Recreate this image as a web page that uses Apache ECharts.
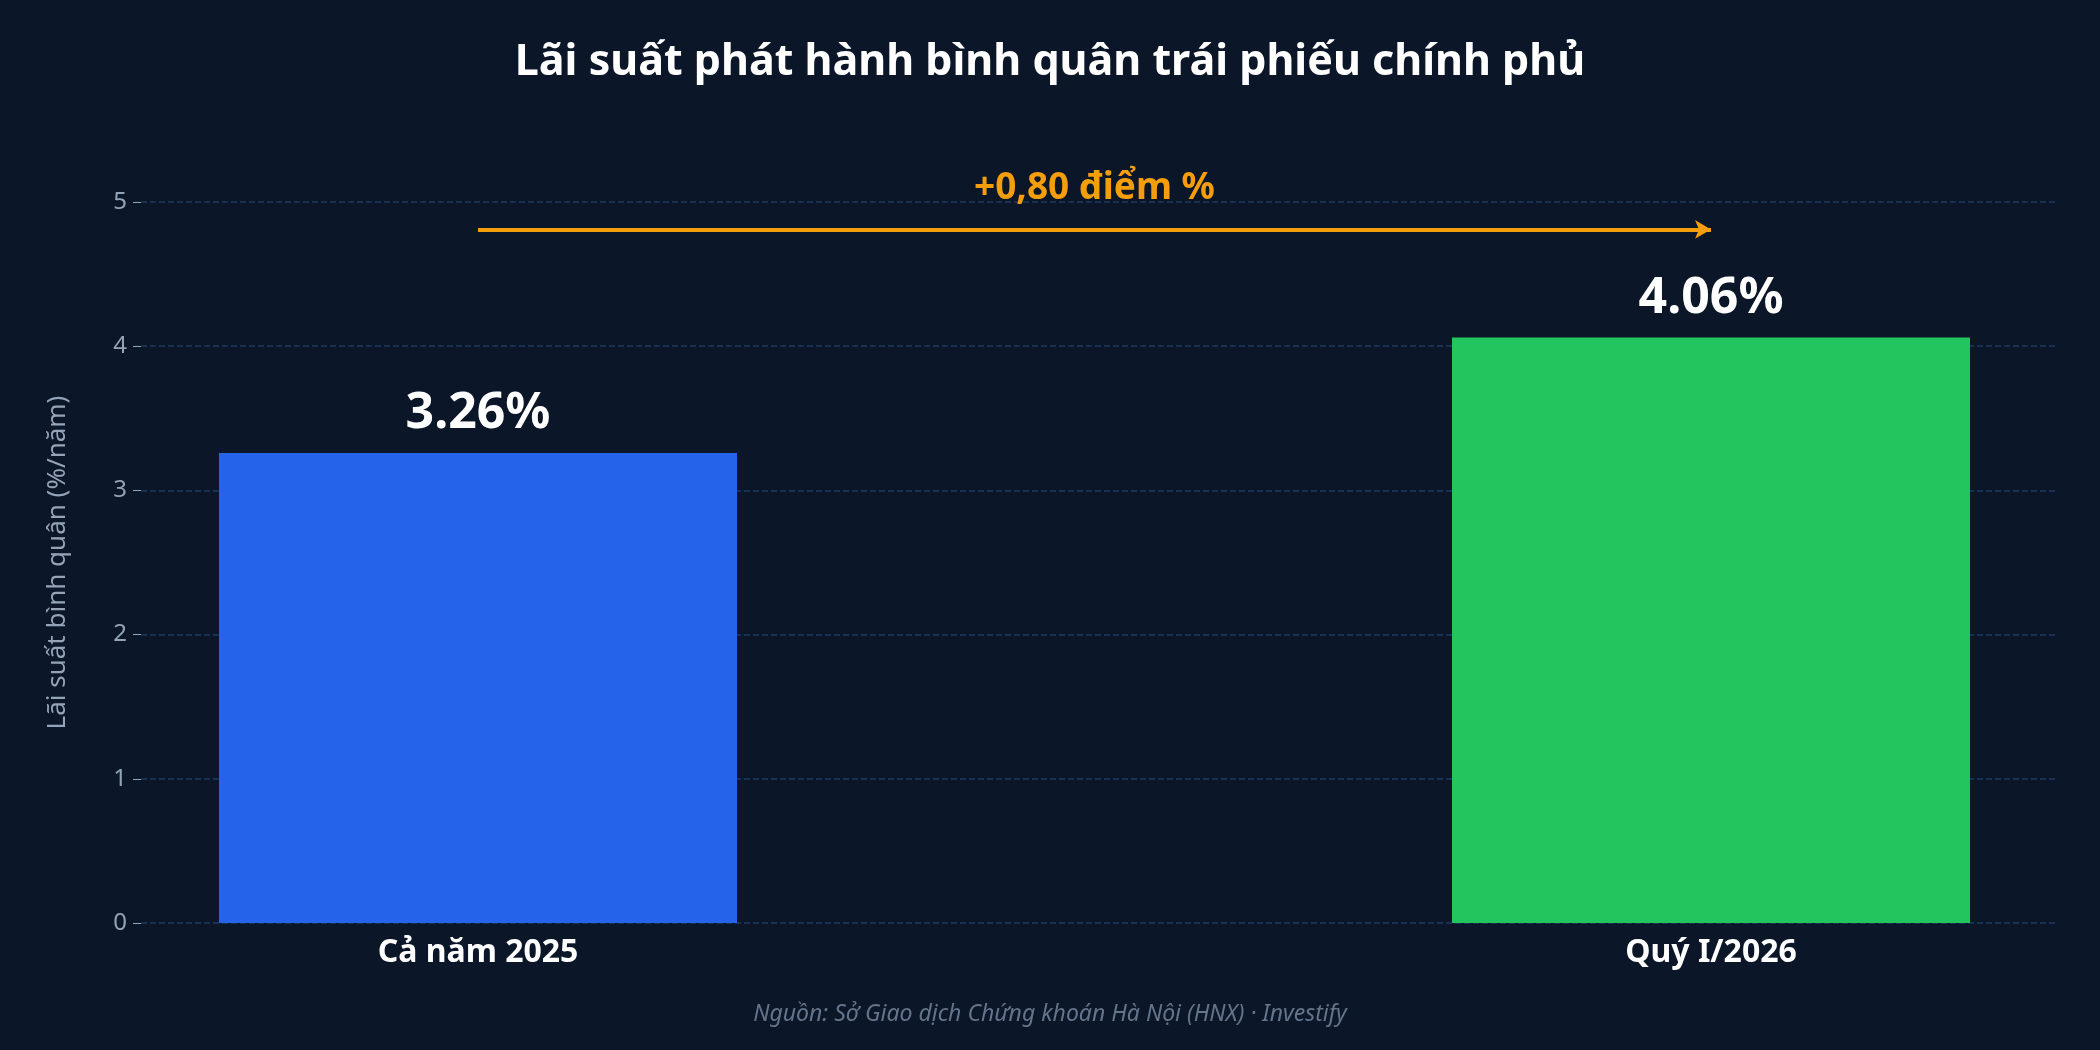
<!DOCTYPE html>
<html><head><meta charset="utf-8">
<script src="https://cdn.jsdelivr.net/npm/echarts@6/dist/echarts.min.js"></script>
<style>html,body{margin:0;padding:0;background:#0b1628}#c{width:2100px;height:1050px}</style>
</head><body><div id="c"></div>
<script>
const categories = ["Cả năm 2025", "Quý I/2026"];
const values = [3.26, 4.06];
const colors = ["#2563eb", "#22c55e"];
const arrowLevel = 4.81;
const arrowLabel = "+0,80 điểm %";
const yTicks = [0, 1, 2, 3, 4, 5];

const chart = echarts.init(document.getElementById('c'));
const font = "'Noto Sans', 'DejaVu Sans', sans-serif";
chart.setOption({
  backgroundColor: '#0b1628',
  animation: false,
  title: [{
    text: 'Lãi suất phát hành bình quân trái phiếu chính phủ',
    left: 'center', top: 36,
    textStyle: {color: '#ffffff', fontSize: 43, fontWeight: 'bold', fontFamily: font}
  }, {
    text: 'Nguồn: Sở Giao dịch Chứng khoán Hà Nội (HNX) · Investify',
    left: 'center', top: 998,
    textStyle: {color: '#64748b', fontSize: 23, fontStyle: 'italic', fontWeight: 'normal', fontFamily: font}
  }],
  grid: [
    {left: 141, right: 45, top: 202, bottom: 127},
    {left: 478, right: 389, top: 202, bottom: 127}
  ],
  xAxis: [
    {gridIndex: 0, type: 'value', show: false, min: 0, max: 1},
    {gridIndex: 1, type: 'category', data: categories, boundaryGap: false,
     axisLine: {show: false}, axisTick: {show: false},
     axisLabel: {color: '#ffffff', fontSize: 32, fontWeight: 'bold', fontFamily: font, margin: 14}}
  ],
  yAxis: [
    {gridIndex: 0, type: 'value', min: yTicks[0], max: yTicks[yTicks.length-1], interval: 1,
     name: 'Lãi suất bình quân (%/năm)', nameLocation: 'middle', nameGap: 70,
     nameTextStyle: {color: '#94a3b8', fontSize: 26, fontFamily: font},
     axisLine: {show: false},
     axisTick: {show: true, length: 8, lineStyle: {color: '#94a3b8'}},
     axisLabel: {color: '#94a3b8', fontSize: 24, fontFamily: font, margin: 14},
     splitLine: {show: true, lineStyle: {color: '#1e3a5f', type: 'dashed', width: 1.5}}},
    {gridIndex: 1, type: 'value', min: yTicks[0], max: yTicks[yTicks.length-1], interval: 1, show: false, splitLine: {show: false}}
  ],
  series: [{
    type: 'bar', xAxisIndex: 1, yAxisIndex: 1, barWidth: 518,
    data: values.map((v, i) => ({value: v, itemStyle: {color: colors[i]}})),
    label: {show: true, position: 'top', distance: 14, formatter: p => p.value.toFixed(2) + '%',
      color: '#ffffff', fontSize: 50, fontWeight: 'bold', fontFamily: font},
    markLine: {
      silent: true, symbol: ['none', 'arrow'], symbolSize: [14, 16],
      lineStyle: {color: '#f59e0b', width: 4, type: 'solid'},
      label: {show: true, position: 'middle', formatter: arrowLabel, distance: 22,
        color: '#f59e0b', fontSize: 37, fontWeight: 'bold', fontFamily: font},
      data: [[{coord: [0, arrowLevel]}, {coord: [1, arrowLevel]}]]
    }
  }]
});
</script></body></html>
